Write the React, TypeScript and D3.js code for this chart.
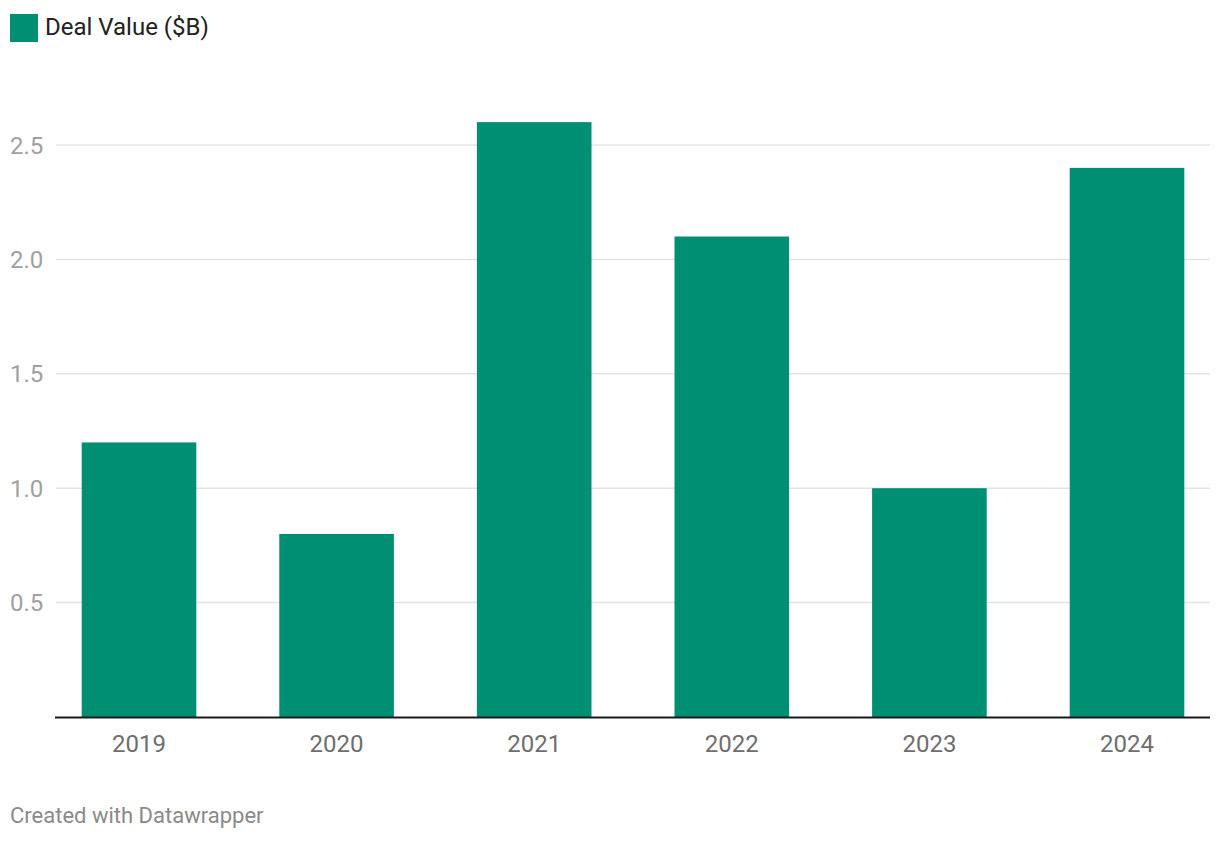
import React, { useRef, useEffect } from "react";
import * as d3 from "d3";

const years = ["2019", "2020", "2021", "2022", "2023", "2024"];
const dealValues = [1.2, 0.8, 2.6, 2.1, 1.0, 2.4];
const yTicks = [0.5, 1.0, 1.5, 2.0, 2.5];
const seriesName = "Deal Value ($B)";

const W = 1220;
const H = 842;
const left = 55;
const right = 1210;
const baseY = 717;
const barColor = "#008f72";
const font = "Roboto, 'Noto Sans', sans-serif";

const App = () => {
  const svgRef = useRef<SVGSVGElement>(null);

  useEffect(() => {
    const svg = d3.select(svgRef.current);
    svg.selectAll("*").remove();

    const x = d3.scaleBand().domain(years).range([56, right]).paddingInner(0.42).paddingOuter(0.13);
    const y = d3.scaleLinear().domain([0, 2.5]).range([baseY, 145]);

    // legend
    svg.append("rect").attr("x", 10).attr("y", 14).attr("width", 28).attr("height", 28).attr("fill", barColor);
    svg
      .append("text")
      .attr("x", 45)
      .attr("y", 35)
      .attr("font-family", font)
      .attr("font-size", 24)
      .attr("fill", "#222")
      .text(seriesName);

    // gridlines + y labels
    const grid = svg.append("g");
    grid
      .selectAll("line")
      .data(yTicks)
      .join("line")
      .attr("x1", 56)
      .attr("x2", right)
      .attr("y1", (d) => y(d))
      .attr("y2", (d) => y(d))
      .attr("stroke", "#e3e3e3")
      .attr("stroke-width", 1.5);
    grid
      .selectAll("text")
      .data(yTicks)
      .join("text")
      .attr("x", 10)
      .attr("y", (d) => y(d))
      .attr("dy", "0.36em")
      .attr("font-family", font)
      .attr("font-size", 24)
      .attr("fill", "#a0a0a0")
      .text((d) => d3.format(".1f")(d));

    // bars
    svg
      .append("g")
      .selectAll("rect")
      .data(dealValues)
      .join("rect")
      .attr("x", (_, i) => x(years[i])!)
      .attr("width", x.bandwidth())
      .attr("y", (d) => y(d))
      .attr("height", (d) => baseY - y(d))
      .attr("fill", barColor);

    // baseline
    svg
      .append("line")
      .attr("x1", left)
      .attr("x2", right)
      .attr("y1", baseY + 0.5)
      .attr("y2", baseY + 0.5)
      .attr("stroke", "#1a1a1a")
      .attr("stroke-width", 2);

    // x labels
    svg
      .append("g")
      .selectAll("text")
      .data(years)
      .join("text")
      .attr("x", (d) => x(d)! + x.bandwidth() / 2)
      .attr("y", 752)
      .attr("text-anchor", "middle")
      .attr("font-family", font)
      .attr("font-size", 24)
      .attr("fill", "#6e6e6e")
      .text((d) => d);

    svg
      .append("text")
      .attr("x", 10)
      .attr("y", 823)
      .attr("font-family", font)
      .attr("font-size", 22)
      .attr("fill", "#8a8a8a")
      .text("Created with Datawrapper");
  }, []);

  return (
    <div style={{ position: "absolute", left: 0, top: 0 }}>
      <svg ref={svgRef} width={W} height={H} style={{ display: "block", background: "#fff" }} />
    </div>
  );
};

export default App;
